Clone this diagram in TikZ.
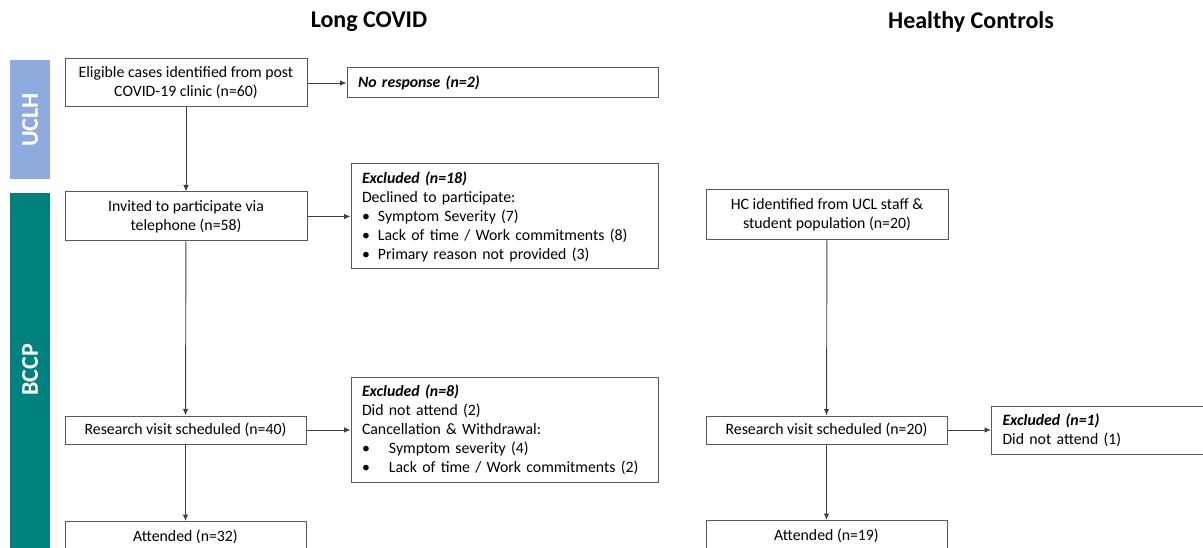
\documentclass[tikz,border=0pt]{standalone}
\usepackage{fontspec}
\setmainfont{Carlito}
\usetikzlibrary{arrows.meta}
\definecolor{boxc}{HTML}{595959}
\definecolor{arrc}{HTML}{404040}
\definecolor{uclh}{HTML}{8FAADC}
\definecolor{bccp}{HTML}{00807F}
\tikzset{
  box/.style={draw=boxc, line width=1pt, fill=white, align=center, inner sep=0pt,
    font=\fontsize{15.8}{19}\selectfont},
  lbox/.style={box, align=left, inner xsep=11pt},
  conn/.style={draw=arrc, line width=0.9pt, -{Latex[length=6.5pt,width=5.5pt]}},
  bar/.style={inner sep=0pt, minimum width=40pt},
  barlabel/.style={text=white, rotate=90, font=\fontsize{24}{28}\selectfont\bfseries},
  title/.style={font=\fontsize{24}{28}\selectfont\bfseries},
}
\newcommand{\blt}[1]{\makebox[#1][l]{\textbullet}}
\begin{document}
\begin{tikzpicture}[x=1pt,y=-1pt]
\useasboundingbox (0,0) rectangle (1203,548);
\begin{scope}
\clip (0,0) rectangle (1203,548);
% titles
\node[title] (t1) at (369,22) {Long COVID};
\node[title] (t2) at (971,22) {Healthy Controls};
% side bars
\node[bar, fill=uclh, minimum height=119pt] (ub) at (30,120) {};
\node[barlabel] (ul) at (ub.center) {UCLH};
\node[bar, fill=bccp, minimum height=370pt] (bb) at (30,378) {};
\node[barlabel] (bl) at (30,370) {BCCP};
% left column
\node[box, minimum width=242pt, minimum height=48pt] (a1) at (186,83)
  {Eligible cases identified from post\\COVID-19 clinic (n=60)};
\node[lbox, minimum width=311pt, text width=289pt, minimum height=30pt] (nr) at (502.5,83)
  {\textbf{\textit{No response (n=2)}}};
\node[box, minimum width=242pt, minimum height=49pt] (a2) at (186,216.5)
  {Invited to participate via\\telephone (n=58)};
\node[lbox, minimum width=307pt, text width=285pt, minimum height=105pt] (e18) at (504.5,216.5)
  {\textbf{\textit{Excluded (n=18)}}\\
   Declined to participate:\\
   \blt{16pt}Symptom Severity (7)\\
   \blt{16pt}Lack of time / Work commitments (8)\\
   \blt{16pt}Primary reason not provided (3)};
\node[box, minimum width=241pt, minimum height=28pt] (a3) at (185.5,430)
  {Research visit scheduled (n=40)};
\node[lbox, minimum width=307pt, text width=285pt, minimum height=105pt] (e8) at (504.5,429.5)
  {\textbf{\textit{Excluded (n=8)}}\\
   Did not attend (2)\\
   Cancellation \& Withdrawal:\\
   \blt{27pt}Symptom severity (4)\\
   \blt{27pt}Lack of time / Work commitments (2)};
\node[box, minimum width=241pt, minimum height=40pt, anchor=north] (a4) at (185.5,521)
  {\raisebox{11pt}{Attended (n=32)}};
% right column
\node[box, minimum width=242pt, minimum height=50pt] (h1) at (827,215)
  {HC identified from UCL staff \&\\student population (n=20)};
\node[box, minimum width=241pt, minimum height=28pt] (h2) at (826.5,430)
  {Research visit scheduled (n=20)};
\node[lbox, minimum width=224pt, text width=202pt, minimum height=48pt, anchor=north west] (e1) at (991,406)
  {\textbf{\textit{Excluded (n=1)}}\\Did not attend (1)};
\node[box, minimum width=241pt, minimum height=40pt, anchor=north] (h3) at (826.5,520)
  {\raisebox{11pt}{Attended (n=19)}};
% connectors
\draw[conn] (a1) -- (nr);
\draw[conn] (a1) -- (a2);
\draw[conn] (a2) -- (e18.west |- a2.east);
\draw[conn] (a2) -- (a3);
\draw[conn] (a3) -- (e8.west |- a3.east);
\draw[conn] (a3) -- (a4);
\draw[conn] (h1) -- (h2);
\draw[conn] (h2) -- (e1.west |- h2.east);
\draw[conn] (h2) -- (h3);
\end{scope}
\end{tikzpicture}
\end{document}
